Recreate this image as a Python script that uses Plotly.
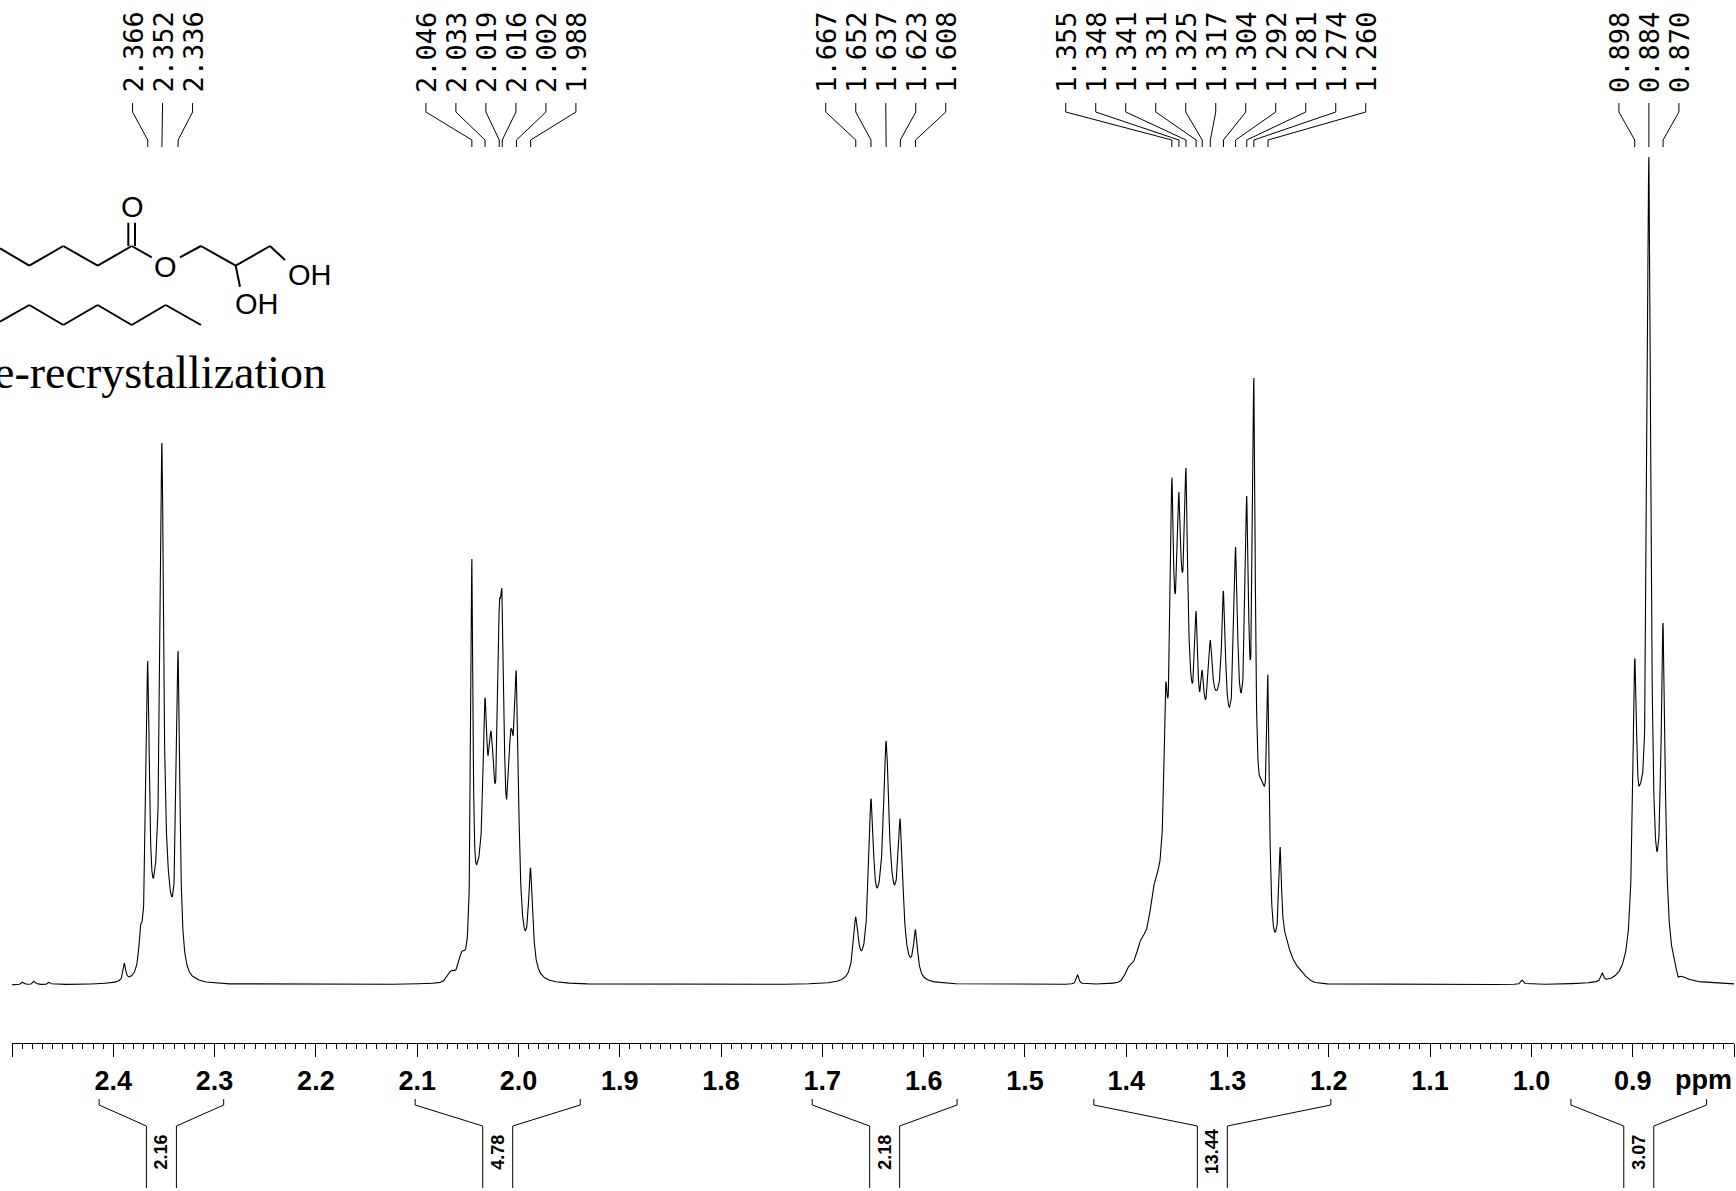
import numpy as np
import plotly.graph_objects as go

# sharp lines: position (ppm), top above baseline, half width (ppm)
line_ppm = [2.4895, 2.478, 2.463,
            2.389, 2.373, 2.366, 2.352, 2.336, 2.317,
            2.046, 2.033, 2.019, 2.016, 2.002, 1.988,
            1.667, 1.652, 1.637, 1.623, 1.608,
            1.448,
            1.361, 1.355, 1.348, 1.341, 1.331, 1.325, 1.317, 1.304, 1.292, 1.281, 1.274, 1.260, 1.248,
            1.009, 0.930, 0.898, 0.884, 0.870, 0.855]
line_top = [3, 4, 3,
            22, 60, 324, 542, 334, 6,
            426, 287, 378, 390, 313, 117,
            68, 186, 244, 166, 55,
            10,
            300, 507, 493, 517, 374, 315, 345, 394, 438, 489, 607, 310, 138,
            5, 12, 326, 828, 362, 8]
line_hw = [0.0015, 0.0015, 0.0015,
           0.0015, 0.002, 0.002, 0.0019, 0.002, 0.0015,
           0.0013, 0.0026, 0.0022, 0.0022, 0.0026, 0.0025,
           0.003, 0.003, 0.003, 0.003, 0.0025,
           0.0015,
           0.002, 0.0018, 0.0018, 0.0018, 0.002, 0.002, 0.0022, 0.0022, 0.0022, 0.002, 0.0016, 0.0016, 0.0015,
           0.0015, 0.0015, 0.0024, 0.0022, 0.0024, 0.002]

# broad humps under the multiplets
hump_ppm = [2.352, 2.066, 2.056, 2.040, 2.020, 2.027, 2.0075, 1.637,
            1.397, 1.385, 1.372, 1.348, 1.318, 1.31, 1.282, 1.265, 1.245, 1.232,
            0.892, 0.884]
hump_amp = [85, 10, 20, 50, 85, 120, 130, 70,
            12, 30, 55, 220, 200, 70, 120, 100, 30, 12,
            75, 40]
hump_sd = [0.008, 0.004, 0.003, 0.004, 0.013, 0.0025, 0.0025, 0.01,
           0.004, 0.005, 0.005, 0.009, 0.028, 0.012, 0.01, 0.004, 0.006, 0.008,
           0.003, 0.012]

# peak pick labels, grouped as printed above the spectrum
label_groups = [
    ["2.366", "2.352", "2.336"],
    ["2.046", "2.033", "2.019", "2.016", "2.002", "1.988"],
    ["1.667", "1.652", "1.637", "1.623", "1.608"],
    ["1.355", "1.348", "1.341", "1.331", "1.325", "1.317", "1.304", "1.292", "1.281", "1.274", "1.260"],
    ["0.898", "0.884", "0.870"],
]

# integrals: region limits (ppm) and value
int_from = [2.414, 2.102, 1.710, 1.432, 0.961]
int_to = [2.291, 1.939, 1.567, 1.198, 0.827]
int_value = ["2.16", "4.78", "2.18", "13.44", "3.07"]

W, H = 1736, 1191
L, R = 12, 1734
AXIS_Y = 1043
BASE_Y = 985


def v(py):
    # pixel row -> intensity units (1 unit = 1 px above baseline)
    return BASE_Y - py


def px(x):
    return (x - L) / (R - L)


def py(y):
    return (H - y) / H


def lorentz(x, c, w):
    return 1.0 / (1.0 + ((x - c) / w) ** 2)


def humps(x):
    return sum(a * np.exp(-0.5 * ((x - c) / s) ** 2) for c, a, s in zip(hump_ppm, hump_amp, hump_sd))


ppm = np.arange(0.8, 2.5001, 0.0002)
centers = np.array(line_ppm)
M = np.array([[lorentz(ci, cj, wj) for cj, wj in zip(line_ppm, line_hw)] for ci in line_ppm])
amps = np.linalg.solve(M, np.array(line_top, float) - humps(centers))
spec = humps(ppm) + sum(a * lorentz(ppm, c, w) for a, c, w in zip(amps, line_ppm, line_hw))

fig = go.Figure()
fig.add_trace(go.Scatter(x=ppm, y=spec, mode="lines", line=dict(color="black", width=1.1),
                         hoverinfo="skip"))

# peak labels and leader lines
step = 30 / ((R - L) / 1.7)
lx, ly = [], []
annotations = []
for grp in label_groups:
    vals = [float(s) for s in grp]
    mid = sum(vals) / len(vals)
    n = len(grp)
    for i, (s, p) in enumerate(zip(grp, vals)):
        xl = mid + ((n - 1) / 2 - i) * step
        lx += [xl, xl, p, p, None]
        ly += [v(103), v(112), v(140), v(147), None]
        annotations.append(dict(x=xl, y=v(52), xref="x", yref="y", text=s, showarrow=False,
                                textangle=-90, xanchor="center", yanchor="middle",
                                font=dict(family="DejaVu Sans Mono", size=27, color="black")))
fig.add_trace(go.Scatter(x=lx, y=ly, mode="lines", line=dict(color="black", width=1),
                         hoverinfo="skip"))

# integral brackets below the axis
half = 15 / ((R - L) / 1.7)
ix, iy = [], []
for a, b, t in zip(int_from, int_to, int_value):
    m = (a + b) / 2
    ix += [a, a, m + half, m + half, None, b, b, m - half, m - half, None]
    iy += [v(1099), v(1105), v(1126), v(1188), None, v(1099), v(1105), v(1126), v(1188), None]
    annotations.append(dict(x=m, y=v(1152), xref="x", yref="y", text=t, showarrow=False,
                            textangle=-90, xanchor="center", yanchor="middle",
                            font=dict(family="Liberation Sans", size=18, color="black", weight="bold")))
fig.add_trace(go.Scatter(x=ix, y=iy, mode="lines", line=dict(color="black", width=1),
                         hoverinfo="skip"))

annotations.append(dict(x=px(1703), y=v(1080), xref="paper", yref="y", text="ppm", showarrow=False,
                        xanchor="center", yanchor="middle",
                        font=dict(family="Liberation Sans", size=27, color="black", weight="bold")))

# structure drawing (top left, partly cut off)
bonds = [
    [(0, 248.3), (29.3, 265.7), (63.3, 246), (97.7, 265.7), (131.7, 246), (151.7, 257.3)],
    [(180, 257.3), (201, 246), (235.7, 265.7), (270, 246), (285, 260)],
    [(235.7, 265.7), (240, 286.7)],
    [(128.3, 246), (128.3, 222.7)],
    [(135, 246), (135, 222.7)],
    [(0, 321.7), (29.3, 305), (63.3, 325), (97.7, 305), (131.7, 325), (165.7, 305), (201, 325)],
]
shapes = []
for chain in bonds:
    for (x0, y0), (x1, y1) in zip(chain[:-1], chain[1:]):
        shapes.append(dict(type="line", xref="paper", yref="paper",
                           x0=px(x0), y0=py(y0), x1=px(x1), y1=py(y1),
                           line=dict(color="black", width=2)))
atoms = [("O", 132.3, 207.3, "center"), ("O", 165.7, 267.0, "center"),
         ("OH", 285.5, 275.0, "left"), ("OH", 232.5, 304.3, "left")]
for t, x, y, anc in atoms:
    annotations.append(dict(x=px(x), y=py(y), xref="paper", yref="paper", text=t, showarrow=False,
                            xanchor=anc, yanchor="middle",
                            font=dict(family="Liberation Sans", size=29, color="black")))
annotations.append(dict(x=px(328), y=py(372), xref="paper", yref="paper", text="e-recrystallization",
                        showarrow=False, xanchor="right", yanchor="middle",
                        font=dict(family="Liberation Serif", size=46, color="black")))

fig.update_layout(
    width=W, height=H,
    margin=dict(l=L, r=W - R, t=0, b=0),
    paper_bgcolor="white", plot_bgcolor="white",
    showlegend=False,
    xaxis=dict(range=[2.5, 0.8], anchor="free", position=(H - AXIS_Y) / H,
               showline=True, linecolor="black", linewidth=1.3,
               tickmode="linear", tick0=0, dtick=0.1, tickformat=".1f",
               labelalias={"2.5": "", "0.8": ""},
               ticks="outside", ticklen=13, tickwidth=1.3, tickcolor="black",
               tickfont=dict(family="Liberation Sans", size=27, color="black", weight="bold"),
               minor=dict(ticks="outside", ticklen=5, tickwidth=1, tickcolor="black",
                          tickmode="linear", tick0=0, dtick=0.01),
               showgrid=False, zeroline=False, automargin=False, fixedrange=True),
    yaxis=dict(range=[v(H), v(0)], visible=False, showgrid=False, zeroline=False,
               automargin=False, fixedrange=True),
    shapes=shapes,
    annotations=annotations,
)

# page body margin would shift the figure by 8 px
fig.write_html("out.html", config={"displayModeBar": False},
               post_script="document.body.style.margin='0';")
